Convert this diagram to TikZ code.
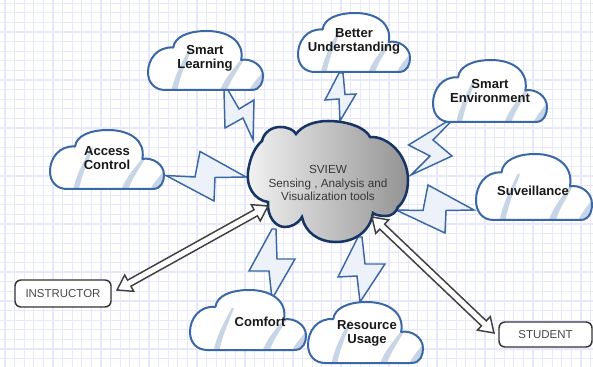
\documentclass[tikz,border=0pt]{standalone}
\usepackage{fontspec}
\setmainfont{Liberation Sans}
\usetikzlibrary{calc}

\definecolor{gridc}{RGB}{232,232,252}
\definecolor{cloudc}{RGB}{58,103,165}
\definecolor{stripec}{RGB}{200,213,230}
\definecolor{boltc}{RGB}{236,241,250}
\definecolor{hubc}{RGB}{22,52,100}
\definecolor{arrowc}{RGB}{64,64,64}
\definecolor{boxtext}{RGB}{72,72,72}

% outline of a small cloud in a unit box (y grows downward)
\def\cloudpath{(0.15,1) -- (0.9,1)
  .. controls (0.98,1) and (1.0,0.86) .. (1.0,0.76)
  .. controls (1.0,0.58) and (0.9,0.46) .. (0.81,0.49)
  .. controls (0.84,0.18) and (0.7,0) .. (0.51,0)
  .. controls (0.35,0) and (0.23,0.1) .. (0.22,0.28)
  .. controls (0.08,0.26) and (0,0.48) .. (0,0.7)
  .. controls (0,0.88) and (0.06,1) .. (0.15,1) -- cycle}

% small cloud: left, top, width, height
\newcommand\smallcloud[4]{%
  \begin{scope}[shift={(#1,#2)},xscale=#3,yscale=#4]
    \fill[white] \cloudpath;
    \begin{scope}
      \clip \cloudpath;
      \fill[stripec] (0.36,0.3) .. controls (0.29,0.55) and (0.22,0.8) .. (0.2,1.05)
        -- (0.25,1.05) .. controls (0.27,0.8) and (0.33,0.55) .. (0.38,0.3) -- cycle;
      \fill[stripec] (0.8,0.5) .. controls (0.72,0.7) and (0.65,0.85) .. (0.62,1.05)
        -- (0.68,1.05) .. controls (0.71,0.85) and (0.77,0.7) .. (0.83,0.5) -- cycle;
      \fill[stripec] (1.02,0.64) .. controls (0.96,0.8) and (0.9,0.9) .. (0.87,1.05)
        -- (1.05,1.05) -- (1.05,0.64) -- cycle;
    \end{scope}
    \draw[cloudc,line width=1.5pt,line join=round] \cloudpath;
  \end{scope}}

% central cloud outline
\def\hubpath{(268,202)
  .. controls (254,200) and (246,186) .. (248,172)
  .. controls (250,156) and (256,146) .. (262,141)
  .. controls (264,132) and (272,127) .. (280,127)
  .. controls (288,127) and (294,130) .. (296,134)
  .. controls (302,126) and (314,121) .. (328,121)
  .. controls (348,121) and (366,128) .. (370,137)
  .. controls (388,136) and (408,155) .. (408,180)
  .. controls (408,192) and (404,202) .. (398,207)
  .. controls (396,213) and (391,216) .. (386,216)
  .. controls (380,216) and (375,215) .. (373,213)
  .. controls (370,232) and (354,242) .. (336,242)
  .. controls (318,242) and (305,232) .. (302,217)
  .. controls (298,224) and (291,227) .. (285,227)
  .. controls (275,227) and (267,216) .. (268,202) -- cycle}

% hollow double-headed block arrow between two named points
\newcommand\hollowarrow[2]{%
  \draw[dblarrow] (#1)
    -- ($(#1)!10.5pt!(#2)!7pt!90:(#2)$)
    -- ($(#1)!10.5pt!(#2)!2.6pt!90:(#2)$)
    -- ($(#2)!10.5pt!(#1)!2.6pt!-90:(#1)$)
    -- ($(#2)!10.5pt!(#1)!7pt!-90:(#1)$)
    -- (#2)
    -- ($(#2)!10.5pt!(#1)!7pt!90:(#1)$)
    -- ($(#2)!10.5pt!(#1)!2.6pt!90:(#1)$)
    -- ($(#1)!10.5pt!(#2)!2.6pt!-90:(#2)$)
    -- ($(#1)!10.5pt!(#2)!7pt!-90:(#2)$)
    -- cycle;}

\tikzset{
  gridline/.style={gridc,line width=0.9pt},
  bolt/.style={draw=cloudc,fill=boltc,line width=1.1pt,line join=miter},
  cloudlabel/.style={align=center,font=\bfseries\fontsize{9.8}{10.6}\selectfont,text=black!90},
  hublabel/.style={align=center,font=\fontsize{8.8}{9.8}\selectfont,text=black!78},
  dblarrow/.style={draw=arrowc,fill=white,line width=1.1pt,line join=miter},
  labelbox/.style={draw=black!80,fill=white,line width=1.1pt,rounded corners=4.5pt,
    font=\fontsize{8.6}{9}\selectfont,text=boxtext,inner sep=0pt}
}

\begin{document}
\begin{tikzpicture}[x=0.75pt,y=-0.75pt]
  \useasboundingbox (0,0) rectangle (593,367);
  \fill[white] (0,0) rectangle (593,367);

  % background grid
  \foreach \i in {0,...,61} \draw[gridline] ({5+9.6*\i},0) -- ({5+9.6*\i},367);
  \foreach \j in {0,...,38} \draw[gridline] (0,{3.3+9.6*\j}) -- (593,{3.3+9.6*\j});

  % lightning bolts
  \draw[bolt] (224,90) -- (225,128) -- (243,118) -- (253,140) -- (254,100) -- (239,109) -- (228,90) -- cycle;
  \draw[bolt] (166,175.5) -- (195,177) -- (200,151.5) -- (246,177) -- (215,177.5) -- (214,201) -- cycle;
  \draw[bolt] (339,73) -- (325,100) -- (339,99) -- (340,121) -- (356,94) -- (345,94.5) -- (343,73) -- cycle;
  \draw[bolt] (447,121.5) -- (408.5,145) -- (430,156) -- (411,175) -- (452,156) -- (433,140) -- (451,121.5) -- cycle;
  \draw[bolt] (396,210) -- (423,210.5) -- (428,185) -- (474,210) -- (446,210.5) -- (445,233) -- cycle;
  \draw[bolt] (272,229) -- (249,271) -- (269,271) -- (272,299) -- (295,259) -- (277,259) -- (276,229) -- cycle;
  \draw[bolt] (358,237) -- (338,277) -- (357,276) -- (360,302) -- (385,264) -- (365,264) -- (362,237) -- cycle;

  % surrounding clouds
  \smallcloud{148}{31}{115}{59}
  \smallcloud{298}{13}{112}{59}
  \smallcloud{433}{60}{114}{62}
  \smallcloud{476}{154}{116}{66}
  \smallcloud{50}{130}{114}{59}
  \smallcloud{190}{290}{116}{60}
  \smallcloud{308}{302}{115}{61}

  \node[cloudlabel] (learn) at (205,58.5) {Smart\\Learning};
  \node[cloudlabel] (under) at (354,41) {Better\\Understanding};
  \node[cloudlabel] (env) at (490,91) {Smart\\Environment};
  \node[cloudlabel] (surv) at (533,191) {Suveillance};
  \node[cloudlabel] (access) at (107,158) {Access\\Control};
  \node[cloudlabel] (comfort) at (260,322) {Comfort};
  \node[cloudlabel] (resource) at (367,333.5) {Resource\\Usage};

  % central cloud
  \path[draw=hubc,line width=1.9pt,left color=black!5,right color=black!42] \hubpath;
  \node[hublabel] (hub) at (328,183) {SVIEW\\Sensing , Analysis and\\Visualization tools};

  % actors
  \node[labelbox,minimum width=72pt,minimum height=20.25pt] (instr) at (63,293.5) {INSTRUCTOR};
  \node[labelbox,minimum width=69.75pt,minimum height=18.75pt] (student) at (545.5,334.5) {STUDENT};

  \coordinate (instrtip) at (117,290);
  \coordinate (hubleft) at (268,206);
  \coordinate (hubright) at (372,217);
  \coordinate (studtip) at (494,333);
  \hollowarrow{instrtip}{hubleft}
  \hollowarrow{hubright}{studtip}
\end{tikzpicture}
\end{document}
